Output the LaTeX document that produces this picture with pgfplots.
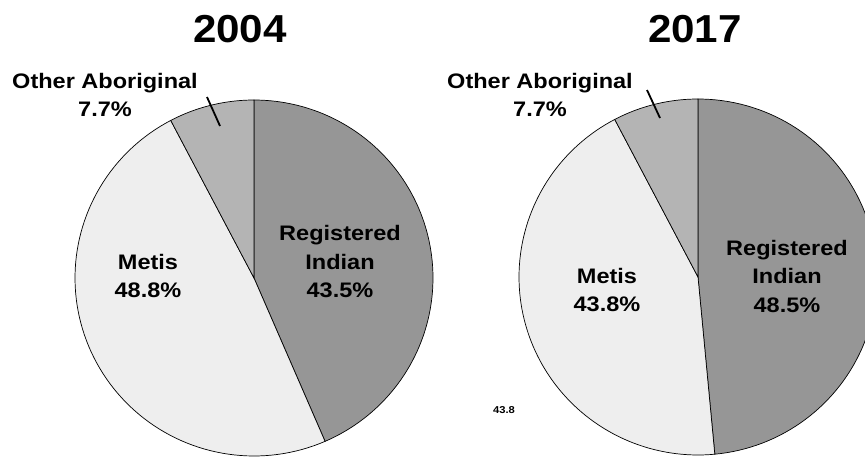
\documentclass[border=0pt]{standalone}
\usepackage{pgfplots}
\pgfplotsset{compat=1.18}
\usepackage{fontspec}
\setmainfont{Liberation Sans}
\newfontfamily\lab{Liberation Sans}[FakeStretch=1.12]
\newfontfamily\ttl{Liberation Sans}[FakeStretch=1.08]

\definecolor{regind}{RGB}{150,150,150}
\definecolor{metis}{RGB}{238,238,238}
\definecolor{other}{RGB}{180,180,180}

% shares in percent, clockwise from 12 o'clock
\def\riA{43.5} \def\meA{48.8} \def\otA{7.7}
\def\riB{48.5} \def\meB{43.8} \def\otB{7.7}

% slice: #1 colour, #2 cx, #3 cy, #4 start angle, #5 end angle
\newcommand{\pieslice}[5]{%
  \addplot[fill=#1, draw=black, line width=0.7pt, domain=#4:#5, samples=90, variable=\t]
    ({#2+179*cos(\t)},{#3+178*sin(\t)}) -- (axis cs:#2,#3) -- cycle;}

\begin{document}
\begin{tikzpicture}
\pgfmathsetmacro{\aA}{90-3.6*\riA}
\pgfmathsetmacro{\bA}{\aA-3.6*\meA}
\pgfmathsetmacro{\cA}{\bA+360}
\pgfmathsetmacro{\aB}{90-3.6*\riB}
\pgfmathsetmacro{\bB}{\aB-3.6*\meB}
\pgfmathsetmacro{\cB}{\bB+360}
\begin{axis}[
  name=ax,
  width=865pt, height=456pt, scale only axis,
  xmin=0, xmax=865, ymin=0, ymax=456,
  hide axis, clip=true,
]
% 2004
\pieslice{regind}{254}{178}{\aA}{90}
\pieslice{metis}{254}{178}{\bA}{\aA}
\pieslice{other}{254}{178}{90}{\cA}
% 2017
\pieslice{regind}{698}{179}{\aB}{90}
\pieslice{metis}{698}{179}{\bB}{\aB}
\pieslice{other}{698}{179}{90}{\cB}

\draw[line width=1.8pt] (axis cs:207,359) -- (axis cs:220,330);
\draw[line width=1.8pt] (axis cs:647,366) -- (axis cs:660,338);

\node[font=\ttl\bfseries\fontsize{39}{41}\selectfont] at (axis cs:240,427) {2004};
\node[font=\ttl\bfseries\fontsize{39}{41}\selectfont] at (axis cs:695,427) {2017};

\begin{scope}[every node/.style={font=\lab\bfseries\fontsize{21}{28.5}\selectfont, align=center}]
\node at (axis cs:105,361) {Other Aboriginal\\7.7\%};
\node at (axis cs:540,361) {Other Aboriginal\\7.7\%};
\node at (axis cs:148,180) {Metis\\48.8\%};
\node at (axis cs:340,194) {Registered\\Indian\\43.5\%};
\node at (axis cs:607,166) {Metis\\43.8\%};
\node at (axis cs:787,180) {Registered\\Indian\\48.5\%};
\end{scope}
\node[font=\lab\bfseries\fontsize{10}{12}\selectfont] at (axis cs:504,46) {43.8};
\end{axis}
\pgfresetboundingbox
\useasboundingbox (ax.south west) rectangle (ax.north east);
\end{tikzpicture}
\end{document}
